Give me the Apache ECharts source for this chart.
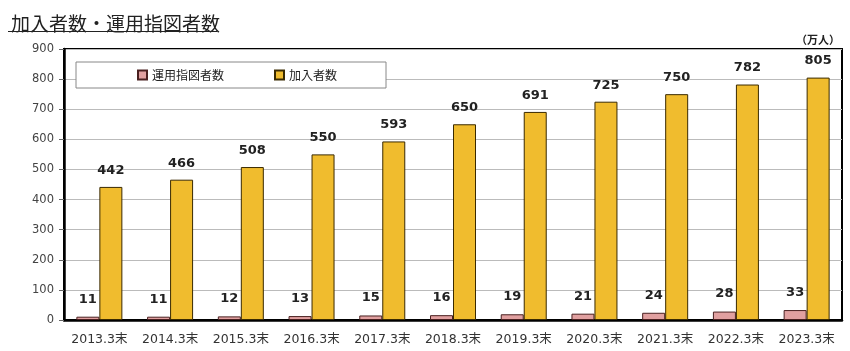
<!DOCTYPE html>
<html>
<head>
<meta charset="utf-8">
<script src="https://cdn.jsdelivr.net/npm/echarts@6/dist/echarts.min.js"></script>
<style>
  html, body { margin: 0; padding: 0; background: #fff; }
  #chart { width: 850px; height: 351px; }
</style>
</head>
<body>
<div id="chart"></div>
<script>
var categories = ['2013.3末', '2014.3末', '2015.3末', '2016.3末', '2017.3末', '2018.3末',
                  '2019.3末', '2020.3末', '2021.3末', '2022.3末', '2023.3末'];
var operators = [11, 11, 12, 13, 15, 16, 19, 21, 24, 28, 33];      // 運用指図者数
var members = [442, 466, 508, 550, 593, 650, 691, 725, 750, 782, 805]; // 加入者数

var FONT = '"DejaVu Sans", "Noto Sans CJK JP", sans-serif';

var myChart = echarts.init(document.getElementById('chart'));

var option = {
  animation: false,
  textStyle: { fontFamily: FONT },
  title: {
    text: '加入者数・運用指図者数',
    left: 6,
    top: 9,
    textStyle: { fontFamily: '"Noto Sans CJK JP", sans-serif', fontSize: 19, fontWeight: 'normal', color: '#222' }
  },
  graphic: [
    { type: 'line', shape: { x1: 8, y1: 31.5, x2: 217, y2: 31.5 }, style: { stroke: '#222', lineWidth: 1.2 } },
    { type: 'text', left: 796, top: 34,
      style: { text: '（万人）', font: 'bold 11px "Noto Sans CJK JP", sans-serif', fill: '#222' } }
  ],
  legend: {
    left: 76,
    top: 62,
    padding: [7, 49, 7, 61],
    itemGap: 50,
    itemWidth: 9,
    itemHeight: 9,
    icon: 'rect',
    backgroundColor: '#fff',
    borderColor: '#888',
    borderWidth: 1,
    textStyle: { fontSize: 12, color: '#222', fontFamily: '"Noto Sans CJK JP", sans-serif' },
    data: ['運用指図者数', '加入者数']
  },
  grid: {
    left: 64, right: 8, top: 49, bottom: 31,
    show: true,
    borderColor: '#000',
    borderWidth: 2
  },
  xAxis: {
    type: 'category',
    data: categories,
    axisLine: { lineStyle: { color: '#000', width: 2.5 } },
    axisTick: { inside: true, length: 4, lineStyle: { color: '#333' } },
    axisLabel: { interval: 0, fontSize: 12.5, color: '#333', margin: 13 }
  },
  yAxis: {
    type: 'value',
    min: 0, max: 900, interval: 100,
    axisLine: { show: true, lineStyle: { color: '#000', width: 2.5 } },
    axisTick: { show: true, length: 5, lineStyle: { color: '#666' } },
    axisLabel: { fontSize: 11.5, color: '#444', margin: 10 },
    splitLine: { lineStyle: { color: '#bbb', width: 1 } }
  },
  series: [
    {
      name: '運用指図者数',
      type: 'bar',
      data: operators,
      barWidth: 23,
      barGap: '0%',
      itemStyle: { color: '#e1a0a0', borderColor: '#4a2020', borderWidth: 1 },
      label: { show: true, position: 'top', distance: 11, fontSize: 13, fontWeight: 'bold', color: '#222' }
    },
    {
      name: '加入者数',
      type: 'bar',
      data: members,
      barWidth: 23,
      barGap: '0%',
      itemStyle: { color: '#f0bc2e', borderColor: '#3a2a00', borderWidth: 1 },
      label: { show: true, position: 'top', distance: 10, fontSize: 13, fontWeight: 'bold', color: '#222' }
    }
  ]
};

myChart.setOption(option, true);
</script>
</body>
</html>
